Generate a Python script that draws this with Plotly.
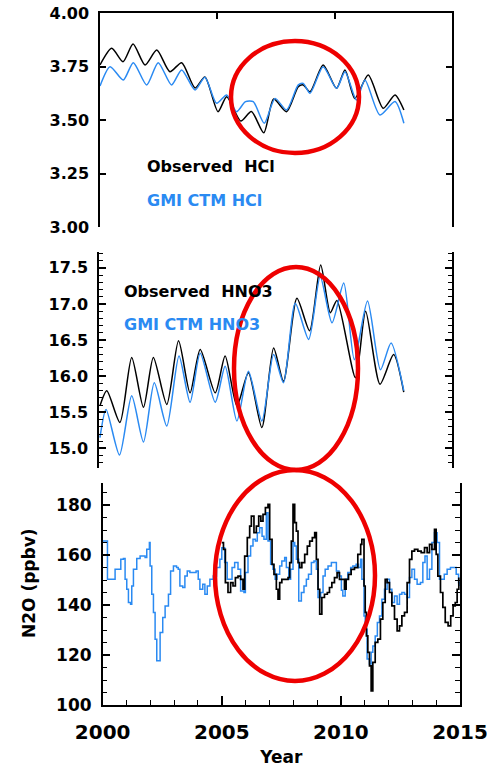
import plotly.graph_objects as go

# ---------------- data ----------------
hcl_obs_t = [2000.0, 2000.5, 2000.98, 2001.41, 2001.92, 2002.42, 2002.98, 2003.48, 2004.05, 2004.47,
             2005.03, 2005.4, 2006.0, 2006.45, 2006.98, 2007.4, 2007.95, 2008.45, 2008.66, 2008.95,
             2009.51, 2010.08, 2010.44, 2010.86, 2011.43, 2012.07, 2012.57, 2012.95]
hcl_obs_v = [3.757, 3.835, 3.772, 3.855, 3.757, 3.827, 3.726, 3.768, 3.650, 3.701,
             3.539, 3.609, 3.495, 3.540, 3.440, 3.598, 3.539, 3.656, 3.664, 3.632,
             3.757, 3.648, 3.734, 3.601, 3.710, 3.555, 3.617, 3.547]

hcl_gmi_t = [2000.0, 2000.43, 2000.99, 2001.42, 2001.99, 2002.48, 2003.05, 2003.48, 2004.05, 2004.47,
             2004.97, 2005.4, 2005.82, 2006.2, 2006.53, 2007.0, 2007.46, 2007.95, 2008.45, 2008.66,
             2008.95, 2009.51, 2010.08, 2010.44, 2010.93, 2011.29, 2011.93, 2012.57, 2012.95]
hcl_gmi_v = [3.659, 3.749, 3.687, 3.768, 3.664, 3.768, 3.664, 3.734, 3.640, 3.700,
             3.578, 3.617, 3.539, 3.586, 3.586, 3.485, 3.601, 3.547, 3.664, 3.671,
             3.625, 3.749, 3.648, 3.726, 3.593, 3.687, 3.523, 3.586, 3.485]

hno3_obs_t = [2000.04, 2000.33, 2000.89, 2001.39, 2001.89, 2002.31, 2002.88, 2003.38, 2003.87, 2004.30,
              2004.94, 2005.36, 2005.86, 2006.35, 2006.92, 2007.42, 2007.84, 2008.41, 2008.95, 2009.42,
              2009.83, 2010.11, 2010.9, 2011.33, 2011.94, 2012.52, 2012.95]
hno3_obs_v = [15.59, 15.80, 15.36, 16.26, 15.57, 16.26, 15.61, 16.49, 15.77, 16.37,
              15.77, 16.28, 15.59, 16.05, 15.29, 16.39, 15.93, 17.08, 16.63, 17.54,
              16.88, 17.05, 15.98, 16.90, 15.89, 16.30, 15.78]

hno3_gmi_t = [2000.04, 2000.30, 2000.87, 2001.39, 2001.89, 2002.35, 2002.88, 2003.40, 2003.87, 2004.30,
              2004.94, 2005.36, 2005.86, 2006.35, 2006.92, 2007.42, 2007.84, 2008.34, 2008.91, 2009.40,
              2009.90, 2010.40, 2010.85, 2011.41, 2011.96, 2012.41, 2012.95]
hno3_gmi_v = [15.15, 15.54, 14.91, 15.73, 15.09, 15.91, 15.31, 16.28, 15.64, 16.32,
              15.64, 16.14, 15.38, 16.07, 15.38, 16.30, 15.91, 17.01, 16.51, 17.38,
              16.74, 17.29, 16.23, 17.04, 16.09, 16.46, 15.80]

n2o_gmi_t = [2000.00, 2000.17, 2000.20, 2000.45, 2000.52, 2000.66, 2000.76, 2000.87, 2000.94, 2001.01,
             2001.08, 2001.17, 2001.22, 2001.29, 2001.43, 2001.57, 2001.78, 2001.85, 2001.96, 2001.99,
             2002.06, 2002.13, 2002.20, 2002.27, 2002.38, 2002.41, 2002.52, 2002.62, 2002.76, 2002.85,
             2002.97, 2003.10, 2003.17, 2003.24, 2003.36, 2003.45, 2003.55, 2003.66, 2003.92, 2004.01,
             2004.08, 2004.20, 2004.29, 2004.39, 2004.50, 2004.64, 2004.78, 2004.92, 2005.00, 2005.12,
             2005.23, 2005.33, 2005.43, 2005.54, 2005.68, 2005.79, 2005.93, 2005.99, 2006.10, 2006.21,
             2006.31, 2006.41, 2006.49, 2006.59, 2006.69, 2006.77, 2006.87, 2006.94, 2007.05, 2007.15,
             2007.24, 2007.32, 2007.43, 2007.52, 2007.64, 2007.71, 2007.81, 2007.89, 2007.99, 2008.06,
             2008.13, 2008.23, 2008.34, 2008.45, 2008.55, 2008.64, 2008.76, 2008.87, 2008.97, 2009.04,
             2009.15, 2009.25, 2009.34, 2009.46, 2009.60, 2009.71, 2009.81, 2009.92, 2010.02, 2010.08,
             2010.18, 2010.29, 2010.41, 2010.50, 2010.64, 2010.74, 2010.83, 2010.88, 2010.97, 2011.02,
             2011.10, 2011.20, 2011.27, 2011.34, 2011.44, 2011.53, 2011.62, 2011.72, 2011.83, 2011.94,
             2012.04, 2012.14, 2012.25, 2012.36, 2012.46, 2012.56, 2012.67, 2012.78, 2012.88, 2012.98,
             2013.09, 2013.20, 2013.34, 2013.44, 2013.53, 2013.62, 2013.72, 2013.82, 2013.93, 2014.04,
             2014.14, 2014.24, 2014.34, 2014.46, 2014.60, 2014.74, 2014.84, 2014.94, 2015.00]
n2o_gmi_v = [165.7, 165.7, 150.4, 150.4, 154.4, 154.4, 158.4, 158.7, 150.4, 146.4,
             141.1, 140.4, 147.7, 154.4, 158.7, 159.7, 159.1, 162.4, 165.1, 155.7,
             144.4, 137.1, 126.4, 117.7, 117.7, 129.1, 135.1, 139.7, 144.4, 153.7,
             155.7, 155.1, 154.4, 147.7, 147.1, 151.7, 153.7, 153.1, 153.7, 150.4,
             146.4, 148.4, 144.4, 147.7, 150.4, 151.7, 155.1, 158.4, 163.0, 157.1,
             150.4, 150.4, 155.1, 157.1, 154.4, 145.7, 145.1, 153.1, 159.7, 163.7,
             166.4, 165.7, 169.1, 171.1, 167.7, 166.4, 177.1, 165.7, 156.4, 154.4,
             150.4, 152.4, 155.7, 157.7, 159.1, 155.1, 150.4, 154.4, 165.1, 163.7,
             158.4, 141.7, 145.1, 147.7, 150.4, 152.4, 157.1, 157.7, 154.4, 143.1,
             145.1, 151.7, 154.4, 155.7, 157.1, 157.1, 153.7, 151.7, 146.0, 143.7,
             150.4, 153.1, 155.1, 155.7, 156.4, 155.1, 158.4, 150.4, 135.7, 130.4,
             118.4, 116.4, 121.1, 123.7, 127.7, 133.1, 135.7, 142.4, 146.4, 150.4,
             146.4, 141.1, 143.7, 140.4, 144.4, 145.1, 144.4, 143.1, 151.1, 154.4,
             150.4, 148.4, 149.1, 157.1, 159.7, 150.4, 154.4, 165.1, 169.1, 165.1,
             150.4, 150.4, 152.4, 154.4, 155.1, 155.1, 152.4, 149.1, 147.7]

n2o_obs_t = [2005.00, 2005.07, 2005.15, 2005.26, 2005.37, 2005.47, 2005.57, 2005.68, 2005.79, 2005.89,
             2005.96, 2006.07, 2006.17, 2006.24, 2006.35, 2006.45, 2006.55, 2006.64, 2006.73, 2006.83,
             2006.94, 2007.01, 2007.11, 2007.19, 2007.29, 2007.36, 2007.43, 2007.52, 2007.64, 2007.78,
             2007.85, 2007.92, 2007.99, 2008.06, 2008.13, 2008.20, 2008.27, 2008.36, 2008.48, 2008.59,
             2008.69, 2008.80, 2008.90, 2008.97, 2009.04, 2009.11, 2009.20, 2009.31, 2009.43, 2009.52,
             2009.62, 2009.73, 2009.84, 2009.94, 2010.04, 2010.15, 2010.22, 2010.32, 2010.43, 2010.57,
             2010.71, 2010.83, 2010.88, 2010.97, 2011.02, 2011.07, 2011.13, 2011.20, 2011.27, 2011.34,
             2011.44, 2011.55, 2011.66, 2011.76, 2011.86, 2011.94, 2012.04, 2012.14, 2012.25, 2012.36,
             2012.46, 2012.56, 2012.67, 2012.78, 2012.88, 2012.98, 2013.09, 2013.23, 2013.37, 2013.51,
             2013.62, 2013.72, 2013.82, 2013.93, 2014.00, 2014.07, 2014.18, 2014.28, 2014.38, 2014.50,
             2014.61, 2014.71, 2014.80, 2014.88, 2014.95]
n2o_obs_v = [165.1, 162.4, 149.1, 145.1, 149.1, 147.7, 151.1, 151.7, 150.4, 146.4,
             159.7, 167.1, 171.7, 175.7, 169.1, 171.7, 175.7, 173.7, 176.4, 179.1,
             180.4, 166.4, 156.4, 152.4, 146.4, 142.4, 149.1, 150.4, 150.4, 151.1,
             157.1, 165.7, 180.4, 173.1, 169.7, 157.1, 155.1, 157.1, 160.4, 163.7,
             165.7, 167.1, 169.1, 158.4, 146.4, 136.4, 143.1, 144.4, 145.1, 147.1,
             149.1, 151.1, 153.1, 150.4, 150.4, 146.4, 150.4, 152.4, 154.4, 155.1,
             160.4, 164.4, 166.4, 147.7, 137.1, 127.7, 121.1, 115.7, 105.7, 117.1,
             125.1, 126.4, 134.4, 141.1, 150.4, 149.1, 145.1, 139.7, 134.4, 129.7,
             131.7, 135.7, 137.1, 149.1, 158.4, 161.7, 162.4, 161.7, 161.1, 163.1,
             161.1, 164.4, 162.4, 170.4, 160.4, 151.7, 145.1, 139.1, 133.1, 131.7,
             135.7, 139.7, 141.1, 146.4, 151.1]

x_range = [2000, 2015]
hcl_range = [3.0, 4.0]
hno3_range = [14.73, 17.72]
n2o_range = [100, 189]

obs_color = "#000000"
gmi_color = "#2a8af2"
FONT = "DejaVu Sans"

W, H = 487, 768
def px(x):
    return x / W
def py(y):
    return 1 - y / H

fig = go.Figure()

# panel 1 (HCl)
fig.add_trace(go.Scatter(x=hcl_obs_t, y=hcl_obs_v, mode="lines", xaxis="x", yaxis="y",
                         line=dict(color=obs_color, width=1.5, shape="spline", smoothing=0.7)))
fig.add_trace(go.Scatter(x=hcl_gmi_t, y=hcl_gmi_v, mode="lines", xaxis="x", yaxis="y",
                         line=dict(color=gmi_color, width=1.5, shape="spline", smoothing=0.7)))
# panel 2 (HNO3)
fig.add_trace(go.Scatter(x=hno3_obs_t, y=hno3_obs_v, mode="lines", xaxis="x2", yaxis="y2",
                         line=dict(color=obs_color, width=1.5, shape="spline", smoothing=0.7)))
fig.add_trace(go.Scatter(x=hno3_gmi_t, y=hno3_gmi_v, mode="lines", xaxis="x2", yaxis="y2",
                         line=dict(color=gmi_color, width=1.5, shape="spline", smoothing=0.7)))
# panel 3 (N2O)
fig.add_trace(go.Scatter(x=n2o_gmi_t, y=n2o_gmi_v, mode="lines", xaxis="x3", yaxis="y3",
                         line=dict(color=gmi_color, width=1.5, shape="hv")))
fig.add_trace(go.Scatter(x=n2o_obs_t, y=n2o_obs_v, mode="lines", xaxis="x3", yaxis="y3",
                         line=dict(color=obs_color, width=1.7, shape="hv")))

tickfont = dict(family=FONT, size=16, color="black", weight="bold")
axline = dict(showline=True, linecolor="black", linewidth=1.5, showgrid=False, zeroline=False,
              ticks="inside", tickcolor="black", tickwidth=1.5, automargin=False,
              ticklabeloverflow="allow")

fig.update_layout(
    width=W, height=H,
    margin=dict(l=0, r=0, t=0, b=0, pad=0),
    paper_bgcolor="white", plot_bgcolor="white",
    showlegend=False,
    xaxis=dict(domain=[px(100), px(452)], range=x_range, anchor="y", side="top",
               tickvals=[2005, 2010], showticklabels=False, ticklen=6, mirror=False, **axline),
    yaxis=dict(domain=[py(227), py(13)], range=hcl_range, anchor="x", tick0=3.0, dtick=0.25,
               tickformat=".2f", ticklen=6, mirror="ticks", tickfont=tickfont,
               ticklabelstandoff=6, **axline),
    xaxis2=dict(domain=[px(99), px(452)], range=x_range, anchor="y2", visible=False),
    yaxis2=dict(domain=[py(468), py(252)], range=hno3_range, anchor="x2", tick0=15.0, dtick=0.5,
                tickformat=".1f", ticklen=7, mirror="ticks", tickfont=tickfont, ticklabelstandoff=6,
                minor=dict(dtick=0.1, ticklen=4, ticks="inside", tickcolor="black", tickwidth=1.2),
                **axline),
    xaxis3=dict(domain=[px(102.7), px(460)], range=x_range, anchor="y3", tick0=2000, dtick=5,
                ticklen=9, mirror=False, ticklabelstandoff=8,
                tickfont=dict(family=FONT, size=20, color="black", weight="bold"),
                minor=dict(dtick=1, ticklen=5, ticks="inside", tickcolor="black", tickwidth=1.2),
                title=dict(text="Year", standoff=8,
                           font=dict(family=FONT, size=17, color="black", weight="bold")),
                **axline),
    yaxis3=dict(domain=[py(705), py(483)], range=n2o_range, anchor="x3", tick0=100, dtick=20,
                ticklen=8, mirror="ticks", ticklabelstandoff=6,
                tickfont=dict(family=FONT, size=17, color="black", weight="bold"),
                minor=dict(dtick=5, ticklen=5, ticks="inside", tickcolor="black", tickwidth=1.2),
                **axline),
)

# y-axis title of the N2O panel
fig.add_annotation(text="N2O (ppbv)", x=px(29), y=py(583), xref="paper", yref="paper",
                   textangle=-90, showarrow=False, xanchor="center", yanchor="middle",
                   font=dict(family=FONT, size=17, color="black", weight="bold"))

lab_font = dict(family=FONT, size=16, weight="bold")
labels = [
    ("Observed  HCl", obs_color, 145, 167),
    ("GMI CTM HCl", gmi_color, 145, 200),
    ("Observed  HNO3", obs_color, 122, 292),
    ("GMI CTM HNO3", gmi_color, 122, 325),
]
for text, col, x, y in labels:
    fig.add_annotation(text=text, x=px(x), y=py(y), xref="paper", yref="paper",
                       xanchor="left", yanchor="middle", showarrow=False,
                       font=dict(color=col, **lab_font))

# red highlight ellipses
ellipses = [(231, 41, 359, 153), (234, 267, 358, 470), (215, 470, 375, 681)]
for x0, y0, x1, y1 in ellipses:
    fig.add_shape(type="circle", xref="paper", yref="paper",
                  x0=px(x0), x1=px(x1), y0=py(y1), y1=py(y0),
                  line=dict(color="#ee0000", width=4.5), layer="above")

fig.write_html("out.html", config={"displayModeBar": False},
               post_script="document.body.style.margin='0px';document.body.style.padding='0px';")
